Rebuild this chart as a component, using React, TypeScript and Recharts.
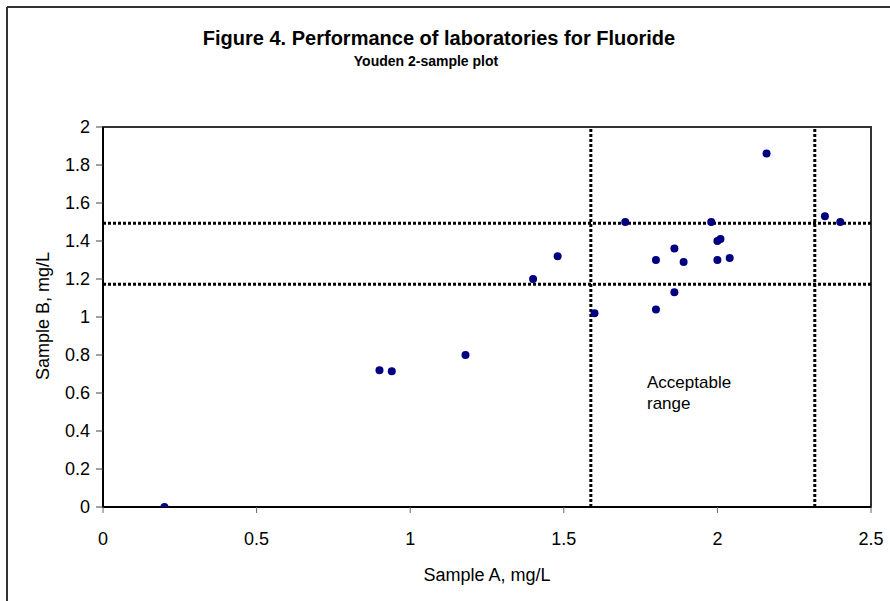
import React from "react";
import {
  ScatterChart,
  Scatter,
  XAxis,
  YAxis,
  ReferenceLine,
  ReferenceArea,
  Customized,
} from "recharts";

const sampleA = [0.2, 0.9, 0.94, 1.18, 1.4, 1.48, 1.6, 1.7, 1.8, 1.8, 1.86, 1.86, 1.89, 1.98, 2.0, 2.0, 2.01, 2.04, 2.16, 2.35, 2.4];
const sampleB = [0.0, 0.72, 0.715, 0.8, 1.2, 1.32, 1.02, 1.5, 1.3, 1.04, 1.36, 1.13, 1.29, 1.5, 1.4, 1.3, 1.41, 1.31, 1.86, 1.53, 1.5];

const xTicks = [0, 0.5, 1, 1.5, 2, 2.5];
const yTicks = [0, 0.2, 0.4, 0.6, 0.8, 1, 1.2, 1.4, 1.6, 1.8, 2];

const limitsA = [1.588, 2.317];
const limitsB = [1.172, 1.493];

const title = "Figure 4. Performance of laboratories for Fluoride";
const subtitle = "Youden 2-sample plot";
const xTitle = "Sample A, mg/L";
const yTitle = "Sample B, mg/L";
const noteLines = ["Acceptable", "range"];

const data = sampleA.map((a, i) => ({ a, b: sampleB[i] }));

const FONT = "'Liberation Sans', Arial, sans-serif";

const Titles = () => (
  <g fontFamily={FONT}>
    <text x={439} y={45} textAnchor="middle" fontSize={20} fontWeight="bold" fill="#000">
      {title}
    </text>
    <text x={426} y={66} textAnchor="middle" fontSize={14} fontWeight="bold" fill="#000">
      {subtitle}
    </text>
    <text x={487} y={581} textAnchor="middle" fontSize={18} fill="#000">
      {xTitle}
    </text>
    <text
      x={43}
      y={316}
      textAnchor="middle"
      fontSize={18}
      fill="#000"
      transform="rotate(-90 43 316)"
      dominantBaseline="central"
    >
      {yTitle}
    </text>
    <text x={647} y={388} fontSize={17} fill="#000">
      {noteLines[0]}
    </text>
    <text x={647} y={409} fontSize={17} fill="#000">
      {noteLines[1]}
    </text>
    <line x1={7} y1={7} x2={890} y2={7} stroke="#333" strokeWidth={2} />
    <line x1={7} y1={7} x2={7} y2={601} stroke="#333" strokeWidth={2} />
  </g>
);

export default function App() {
  return (
    <div style={{ position: "absolute", left: 0, top: 0, width: 890, height: 601, background: "#fff" }}>
      <ScatterChart
        width={890}
        height={601}
        margin={{ top: 127, right: 19, bottom: 64, left: 43 }}
        style={{ fontFamily: FONT }}
      >
        <XAxis
          type="number"
          dataKey="a"
          domain={[0, 2.5]}
          ticks={xTicks}
          tickFormatter={(v: number) => String(v)}
          height={30}
          axisLine={{ stroke: "#000", strokeWidth: 2 }}
          tickLine={{ stroke: "#666" }}
          tickSize={6}
          tickMargin={19}
          tick={{ fill: "#000", fontSize: 18 }}
          allowDataOverflow
        />
        <YAxis
          type="number"
          dataKey="b"
          domain={[0, 2]}
          ticks={yTicks}
          tickFormatter={(v: number) => String(v)}
          width={60}
          axisLine={{ stroke: "#000", strokeWidth: 2 }}
          tickLine={{ stroke: "#444" }}
          tickSize={7}
          tickMargin={6}
          tick={{ fill: "#000", fontSize: 18 }}
          allowDataOverflow
        />
        <ReferenceArea x1={0} x2={2.5} y1={0} y2={2} fill="none" stroke="#333" strokeWidth={2} ifOverflow="visible" />
        {limitsB.map((v) => (
          <ReferenceLine key={"h" + v} y={v} stroke="#000" strokeWidth={3} strokeDasharray="3 2" />
        ))}
        {limitsA.map((v) => (
          <ReferenceLine key={"v" + v} x={v} stroke="#000" strokeWidth={3} strokeDasharray="3 2" />
        ))}
        <Scatter data={data} fill="#000080" isAnimationActive={false} shape={(p: any) => <circle cx={p.cx} cy={p.cy} r={4} fill="#000080" />} />
        <Customized component={Titles} />
      </ScatterChart>
    </div>
  );
}
